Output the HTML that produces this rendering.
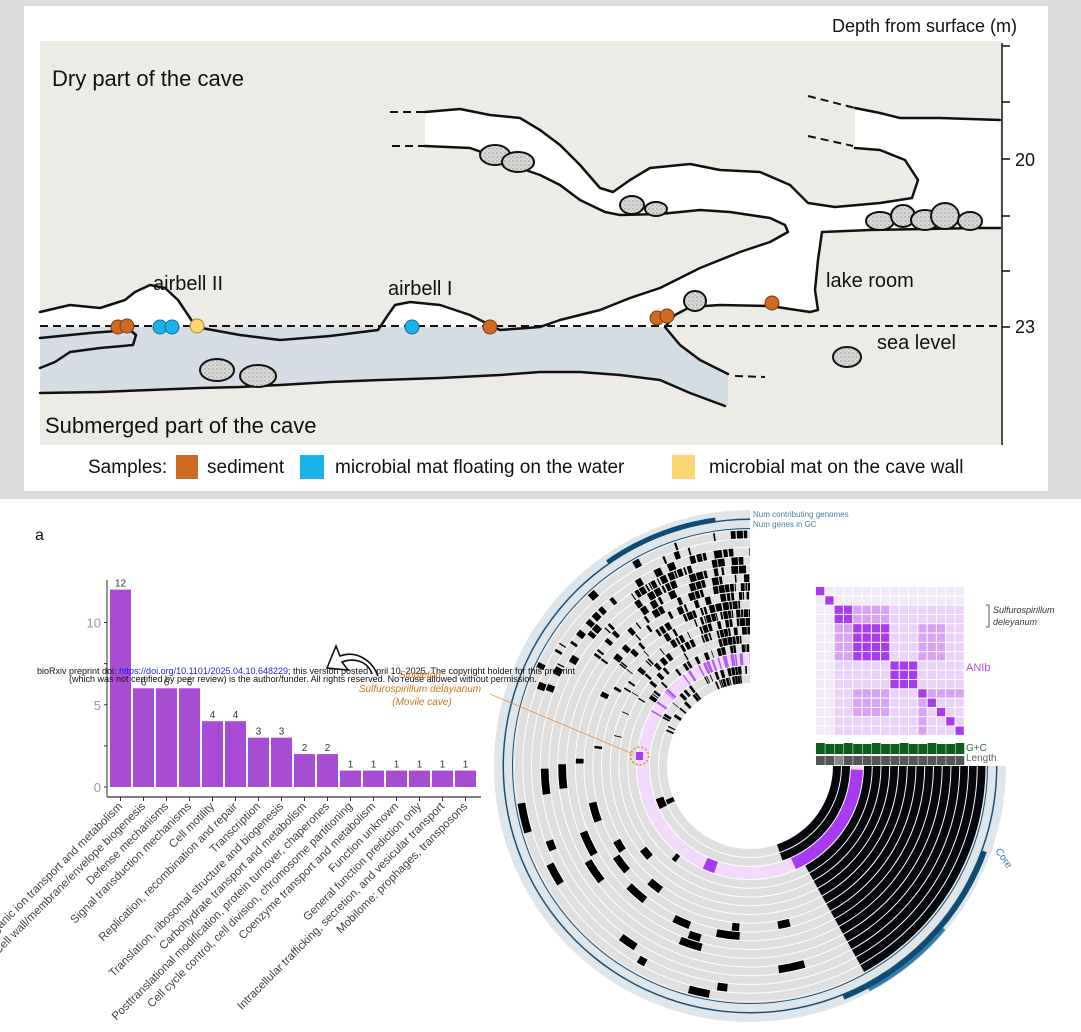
<!DOCTYPE html>
<html><head><meta charset="utf-8"><style>
html,body{margin:0;padding:0;background:#fff;}
body{width:1081px;height:1032px;position:relative;overflow:hidden;font-family:"Liberation Sans",sans-serif;}
svg{position:absolute;left:0;top:0;}
</style></head><body>
<svg id="s" width="1081" height="1032" viewBox="0 0 1081 1032" xmlns="http://www.w3.org/2000/svg">
<defs>
<pattern id="stip" width="4" height="4" patternUnits="userSpaceOnUse"><rect width="4" height="4" fill="#d8d8d6"/><circle cx="1" cy="1" r="0.6" fill="#777"/><circle cx="3" cy="3" r="0.5" fill="#999"/></pattern>
</defs>
<rect x="0" y="0" width="1081" height="499" fill="#dcdcdc"/>
<rect x="24" y="6" width="1024" height="485" fill="#fff"/>
<rect x="40" y="41" width="961" height="404" fill="#ecebe6"/>
<path d="M40,327 L665,327 L680,345 L700,360 L728,374 L728,406 L690,393 L660,380 L620,375 L580,372 L540,372 L500,375 L440,378 L380,380 L330,382 L280,385 L240,387 L200,388 L150,390 L100,392 L40,393 Z" fill="#d6dce3"/>
<path d="M425,112 L460,109 L490,115 L520,118 L540,130 L560,145 L580,165 L600,188 L613,192 L630,180 L650,168 L690,164 L720,170 L760,172 L790,185 L808,203 L835,207 L880,203 L912,198 L918,180 L905,160 L880,150 L855,148 L855,108 L880,113 L900,118 L940,118 L1000,120 L1000,228 L980,228 L870,230 L822,232 L818,260 L815,290 L818,310 L810,312 L770,306 L720,305 L690,307 L675,315 L665,327 L540,327 L560,320 L600,310 L630,298 L660,288 L700,268 L740,252 L770,242 L788,232 L785,225 L770,218 L730,212 L700,210 L660,214 L620,215 L605,212 L580,200 L560,185 L540,175 L520,168 L490,155 L470,148 L425,146 Z" fill="#fff"/>
<path d="M40,312 L70,305 L100,308 L125,300 L135,292 L150,285 L165,288 L178,300 L190,318 L196,327 L40,327 Z" fill="#fff"/>
<path d="M383,327 L388,315 L395,305 L410,302 L440,305 L470,315 L490,325 L495,327 Z" fill="#fff"/>
<g fill="none" stroke="#111" stroke-width="2.5" stroke-linejoin="round" stroke-linecap="round">
<path d="M425,112 L460,109 L490,115 L520,118 L540,130 L560,145 L580,165 L600,188 L613,192 L630,180 L650,168 L690,164 L720,170 L760,172 L790,185 L808,203 L835,207 L880,203 L912,198 L918,180 L905,160 L880,150 L855,148"/>
<path d="M855,108 L880,113 L900,118 L940,118 L1000,120"/>
<path d="M1000,228 L980,228 L870,230 L822,232 L818,260 L815,290 L818,310 L810,312 L770,306 L720,305 L690,307 L675,315 L665,327 L680,345 L700,360 L728,374"/>
<path d="M425,146 L470,148 L490,155 L520,168 L540,175 L560,185 L580,200 L605,212 L620,215 L660,214 L700,210 L730,212 L770,218 L785,225 L788,232 L770,242 L740,252 L700,268 L660,288 L630,298 L600,310 L560,320 L540,327 L500,330 L470,315 L440,305 L410,302 L395,305 L388,315 L378,330 L330,336 L280,340 L240,335 L196,327 L190,318 L178,300 L165,288 L150,285 L135,292 L125,300 L100,308 L70,305 L40,312"/>
<path d="M40,338 L90,333 L130,330 L136,335 L133,345 L100,348 L70,352 L55,362 L40,368"/>
<path d="M40,393 L100,392 L150,390 L200,388 L240,387 L280,385 L330,382 L380,380 L440,378 L500,375 L540,372 L580,372 L620,375 L660,380 L690,393 L725,406"/>
</g>
<g fill="none" stroke="#111" stroke-width="2" stroke-dasharray="8,5">
<path d="M390,112 L425,112"/><path d="M392,146 L425,146"/>
<path d="M808,96 L855,108"/><path d="M808,136 L853,146"/>
<path d="M735,376 L765,377"/>
<path d="M40,326 L1000,326"/>
</g>
<g fill="url(#stip)" stroke="#111" stroke-width="2">
<ellipse cx="495" cy="155" rx="15" ry="10"/><ellipse cx="518" cy="162" rx="16" ry="10"/>
<ellipse cx="632" cy="205" rx="12" ry="9"/><ellipse cx="656" cy="209" rx="11" ry="7"/>
<ellipse cx="880" cy="221" rx="14" ry="9"/><ellipse cx="903" cy="216" rx="12" ry="11"/><ellipse cx="925" cy="220" rx="14" ry="10"/><ellipse cx="945" cy="216" rx="14" ry="13"/><ellipse cx="970" cy="221" rx="12" ry="9"/>
<ellipse cx="695" cy="301" rx="11" ry="10"/>
<ellipse cx="847" cy="357" rx="14" ry="10"/>
<ellipse cx="217" cy="370" rx="17" ry="11"/><ellipse cx="258" cy="376" rx="18" ry="11"/>
</g>
<g stroke="#7a3a10" stroke-width="1">
<circle cx="118" cy="327" r="7" fill="#cf6a22"/><circle cx="127" cy="326" r="7" fill="#cf6a22"/>
<circle cx="490" cy="327" r="7" fill="#cf6a22"/><circle cx="657" cy="318" r="7" fill="#cf6a22"/><circle cx="667" cy="316" r="7" fill="#cf6a22"/><circle cx="772" cy="303" r="7" fill="#cf6a22"/>
</g>
<g stroke="#1a6a9a" stroke-width="1" fill="#1ab4ea">
<circle cx="160" cy="327" r="7"/><circle cx="172" cy="327" r="7"/><circle cx="412" cy="327" r="7"/>
</g>
<circle cx="197" cy="326" r="7" fill="#fcd675" stroke="#b08a30"/>
<g stroke="#111" stroke-width="1.5">
<line x1="1002" y1="43" x2="1002" y2="445"/>
<line x1="1002" y1="46" x2="1010" y2="46"/><line x1="1002" y1="102" x2="1010" y2="102"/><line x1="1002" y1="159" x2="1010" y2="159"/><line x1="1002" y1="216" x2="1010" y2="216"/><line x1="1002" y1="271" x2="1010" y2="271"/><line x1="1002" y1="327" x2="1010" y2="327"/>
</g>
<g font-size="18" fill="#111">
<text x="1015" y="166">20</text><text x="1015" y="333">23</text>
<text x="1017" y="32" text-anchor="end">Depth from surface (m)</text>
</g>
<g font-size="22" fill="#111">
<text x="52" y="86">Dry part of the cave</text>
<text x="45" y="433">Submerged part of the cave</text>
</g>
<g font-size="20" fill="#111">
<text x="153" y="290">airbell II</text><text x="388" y="295">airbell I</text>
<text x="826" y="287">lake room</text><text x="877" y="349">sea level</text>
</g>
<g font-size="19" fill="#111">
<text x="88" y="473">Samples:</text>
<rect x="176" y="455" width="22" height="24" fill="#cf6a22"/><text x="207" y="473">sediment</text>
<rect x="300" y="455" width="24" height="24" fill="#1ab4ea"/><text x="335" y="473">microbial mat  floating on the water</text>
<rect x="672" y="455" width="23" height="24" fill="#fcd675"/><text x="709" y="473">microbial mat on the cave wall</text>
</g>
<text x="35" y="540" font-size="16" fill="#111">a</text>
<g id="bars"></g>
<g id="circ"></g>
<g id="heat"></g>
<g font-size="9" fill="#111">
<text x="37" y="674">bioRxiv preprint doi: <tspan fill="#2020ff">https://doi.org/10.1101/2025.04.10.648229</tspan>; this version posted April 10, 2025. The copyright holder for this preprint</text>
<text x="69" y="682">(which was not certified by peer review) is the author/funder. All rights reserved. No reuse allowed without permission.</text>
</g>
<path d="M378,676 C372,660 356,650 340,656 L336,646 L327,668 L348,670 L342,662 C355,657 368,662 372,674" fill="#fff" stroke="#111" stroke-width="1.6"/>
<g font-size="10" fill="#d0731e" font-style="italic" text-anchor="middle">
<text x="420" y="678">Singleton</text>
<text x="420" y="692">Sulfurospirillum delayianum</text>
<text x="422" y="705">(Movile cave)</text>
</g>
<line x1="490" y1="694" x2="633" y2="754" stroke="#e8924a" stroke-width="0.8"/>
<rect x="636" y="752" width="7" height="8" fill="#a83bf0"/>
<circle cx="639.5" cy="756" r="9" fill="none" stroke="#f08a30" stroke-width="1.6" stroke-dasharray="2,2"/>
<g font-size="8" fill="#4a7fa8">
<text x="753" y="517">Num contributing genomes</text><text x="753" y="527">Num genes in GC</text>
</g>
<text x="995" y="851" font-size="10" fill="#2e7bb0" transform="rotate(55 995 851)">Core</text>
<g font-size="9" font-style="italic" fill="#333">
<text x="993" y="613">Sulfurospirillum</text><text x="993" y="625">deleyanum</text>
</g>
<path d="M986,605 L989,605 L989,627 L986,627" fill="none" stroke="#333" stroke-width="0.8"/>
<text x="966" y="671" font-size="11" fill="#b84de0">ANIb</text>
<text x="966" y="751" font-size="10" fill="#3a6a3a">G+C</text>
<text x="966" y="761" font-size="10" fill="#666">Length</text>
</svg>
<script>
var NS="http://www.w3.org/2000/svg";
function el(p,t,a,txt){var e=document.createElementNS(NS,t);for(var k in a)e.setAttribute(k,a[k]);if(txt!==undefined)e.textContent=txt;p.appendChild(e);return e;}
var seed=12345;function rnd(){seed|=0;seed=seed+0x6D2B79F5|0;var t=Math.imul(seed^seed>>>15,1|seed);t=t+Math.imul(t^t>>>7,61|t)^t;return((t^t>>>14)>>>0)/4294967296;}
var B=document.getElementById('bars');
var vals=[12,6,6,6,4,4,3,3,2,2,1,1,1,1,1,1];
var labs=["Inorganic ion transport and metabolism","Cell wall/membrane/envelope biogenesis","Defense mechanisms","Signal transduction mechanisms","Cell motility","Replication, recombination and repair","Transcription","Translation, ribosomal structure and biogenesis","Carbohydrate transport and metabolism","Posttranslational modification, protein turnover, chaperones","Cell cycle control, cell division, chromosome partitioning","Coenzyme transport and metabolism","Function unknown","General function prediction only","Intracellular trafficking, secretion, and vesicular transport","Mobilome: prophages, transposons"];
var y0=787,u=16.45;
el(B,'line',{x1:107,y1:580,x2:107,y2:797,stroke:'#333','stroke-width':1});
el(B,'line',{x1:107,y1:797,x2:481,y2:797,stroke:'#555','stroke-width':1.5});
[[0,'0'],[5,'5'],[10,'10']].forEach(function(v){var y=y0-v[0]*u;el(B,'text',{x:101,y:y+5,'font-size':13,fill:'#999','text-anchor':'end'},v[1]);el(B,'line',{x1:104,y1:y,x2:107,y2:y,stroke:'#333'});});
el(B,'line',{x1:104,y1:y0-2.5*u,x2:107,y2:y0-2.5*u,stroke:'#333'});el(B,'line',{x1:104,y1:y0-7.5*u,x2:107,y2:y0-7.5*u,stroke:'#333'});
vals.forEach(function(v,i){var x=110+23*i,h=v*u;el(B,'rect',{x:x,y:y0-h,width:21,height:h,fill:'#a64dd3'});
el(B,'text',{x:x+10.5,y:y0-h-3,'font-size':10,fill:'#333','text-anchor':'middle'},String(v));
el(B,'line',{x1:x+10.5,y1:797,x2:x+10.5,y2:801,stroke:'#333'});
var tx=x+13,ty=807;el(B,'text',{x:tx,y:ty,'font-size':11.5,fill:'#444','text-anchor':'end',transform:'rotate(-45 '+tx+' '+ty+')'},labs[i]);});
var C=document.getElementById('circ');var cx=750,cy=766;
function P(r,a){a=a*Math.PI/180;return (cx+r*Math.cos(a)).toFixed(2)+','+(cy+r*Math.sin(a)).toFixed(2);}
function sec(r1,r2,a1,a2,f){var lg=(a2-a1)>180?1:0;el(C,'path',{d:'M'+P(r2,a1)+' A'+r2+','+r2+' 0 '+lg+' 1 '+P(r2,a2)+' L'+P(r1,a2)+' A'+r1+','+r1+' 0 '+lg+' 0 '+P(r1,a1)+' Z',fill:f});}
sec(236,256,0,270,'#dfe6eb');
sec(246,247.5,0,270,'#1d4f72');sec(237,238,0,270,'#1d4f72');
sec(246,251,235,262,'#0f4c75');sec(247,252,20,68,'#0f4c75');sec(252,255,40,62,'#2e7bb0');
var rings=[[83,91],[92,100],[101,113]];
for(var k=0;k<14;k++){var a1=114+k*8.75;rings.push([a1,a1+7.75]);}
for(var i=0;i<rings.length;i++){var r1=rings[i][0],r2=rings[i][1],pk=(i==2);
 sec(r1,r2,0,270,pk?'#f2dafb':'#e0e0e0');
 if(pk){sec(r1,r2,2,66,'#a83bf0');}else sec(r1,r2,0,61+(i<2?10:0),'#05070d');
 var a=180;while(a<270){var w=0.3+rnd()*1.8;var t=(a-180)/90;var p=Math.pow(t,1.2)*0.75;
  if(i>14)p*=0.5;
  if(rnd()<p){sec(r1,r2,a,Math.min(a+w,270),pk?'#b45cf0':'#000');}
  a+=w+rnd()*2*(1-t)+0.2;}
 a=68;while(a<180){a+=6+rnd()*40;if(a>175)break;var w2=2+rnd()*6;if(rnd()<(i>6?0.4:0.2))sec(r1,r2,a,a+w2,pk?'#a83bf0':'#000');}
}
var H=document.getElementById('heat');var hx=816,hy=587,cs=9.3;
var g=[0,1,2,2,3,3,3,3,4,4,4,5,6,7,8,9];
for(var r=0;r<16;r++)for(var c=0;c<16;c++){var col;
 if(g[r]==g[c])col='#a83bf0';
 else if(r<2||c<2)col='#f3eaf8';
 else{var A=Math.min(g[r],g[c]),Bq=Math.max(g[r],g[c]);col=((A==3&&(Bq==5||Bq==6||Bq==7))||(A==2&&Bq==3)||(A==5&&Bq>5))?'#d7a3f2':'#ead2f8';}
 el(H,'rect',{x:hx+c*cs,y:hy+r*cs,width:cs-1,height:cs-1,fill:col});}
for(var c=0;c<16;c++){el(H,'rect',{x:hx+c*cs,y:744-(c%3==0?1:0),width:cs-0.5,height:10+(c%3==0?1:0),fill:'#0d5c1a'});el(H,'rect',{x:hx+c*cs,y:756,width:cs-0.5,height:9,fill:c==2?'#888':'#555'});}
</script>
</body></html>
